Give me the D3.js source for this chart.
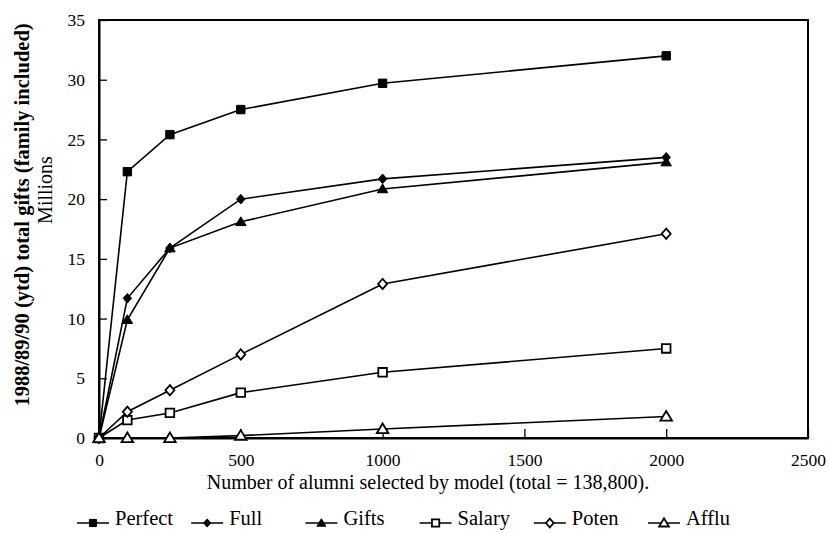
<!DOCTYPE html>
<html>
<head>
<meta charset="utf-8">
<script src="https://cdn.jsdelivr.net/npm/d3@7"></script>
<style>
  body { margin: 0; background: #fff; }
  text { font-family: "Liberation Serif", "Times New Roman", serif; fill: #000; }
</style>
</head>
<body>
<script>
// data (millions)
var alumni = [0, 100, 250, 500, 1000, 2000];
var perfect = [0, 22.3, 25.4, 27.5, 29.7, 32.0];
var full = [0, 11.7, 15.9, 20.0, 21.7, 23.5];
var gifts = [0, 9.9, 15.9, 18.1, 20.85, 23.1];
var salary = [0, 1.5, 2.1, 3.8, 5.5, 7.5];
var poten = [0, 2.2, 4.0, 7.0, 12.9, 17.1];
var afflu = [0, 0, 0, 0.2, 0.75, 1.8];
var seriesNames = ["Perfect", "Full", "Gifts", "Salary", "Poten", "Afflu"];
var xTicks = [0, 500, 1000, 1500, 2000, 2500];
var yTicks = [0, 5, 10, 15, 20, 25, 30, 35];

var width = 829;
var height = 533;
var margin = {top: 20, right: 21, bottom: 95, left: 99};
var serif = '"Liberation Serif", "Times New Roman", serif';

var svg = d3.select("body").append("svg")
    .attr("width", width)
    .attr("height", height);

var x = d3.scaleLinear().domain([0, 2500]).range([margin.left, width - margin.right]);
var y = d3.scaleLinear().domain([0, 35]).range([height - margin.bottom, margin.top]);

// frame round the plot
svg.append("rect")
    .attr("x", x(0))
    .attr("y", y(35))
    .attr("width", x(2500) - x(0))
    .attr("height", y(0) - y(35))
    .attr("fill", "none")
    .attr("stroke", "#000")
    .attr("stroke-width", 2);

// axes, ticks point inward
var xAxis = svg.append("g")
    .attr("transform", "translate(0," + y(0) + ")")
    .call(d3.axisBottom(x).tickValues(xTicks).tickFormat(d3.format("d"))
      .tickSizeInner(-9).tickSizeOuter(0).tickPadding(16));

var yAxis = svg.append("g")
    .attr("transform", "translate(" + x(0) + ",0)")
    .call(d3.axisLeft(y).tickValues(yTicks).tickFormat(d3.format("d"))
      .tickSizeInner(-8).tickSizeOuter(0).tickPadding(14));

[xAxis, yAxis].forEach(function(g) {
  g.attr("font-family", serif).attr("font-size", 17.5);
  g.select(".domain").attr("stroke-width", 2);
  g.selectAll(".tick line").attr("stroke-width", 1.3);
});

// axis titles
svg.append("text")
    .attr("x", 428)
    .attr("y", 489)
    .attr("text-anchor", "middle")
    .style("font-size", "20px")
    .text("Number of alumni selected by model (total = 138,800).");

svg.append("text")
    .attr("transform", "translate(29,215) rotate(-90)")
    .attr("text-anchor", "middle")
    .style("font-size", "20.5px")
    .style("font-weight", "bold")
    .text("1988/89/90 (ytd) total gifts (family included)");

svg.append("text")
    .attr("transform", "translate(52,190) rotate(-90)")
    .attr("text-anchor", "middle")
    .style("font-size", "20px")
    .text("Millions");

// marker shapes
function markerPath(shape, s) {
  if (shape == "square") {
    return "M" + (-s) + "," + (-s) + "H" + s + "V" + s + "H" + (-s) + "Z";
  }
  if (shape == "diamond") {
    return "M0," + (-s * 1.15) + "L" + s + ",0L0," + (s * 1.15) + "L" + (-s) + ",0Z";
  }
  return "M0," + (-s) + "L" + (s * 1.05) + "," + (s * 0.75) + "L" + (-s * 1.05) + "," + (s * 0.75) + "Z";
}

var series = [
  {name: seriesNames[0], values: perfect, shape: "square", size: 4.2, hollow: false},
  {name: seriesNames[1], values: full, shape: "diamond", size: 4.2, hollow: false},
  {name: seriesNames[2], values: gifts, shape: "triangle", size: 5, hollow: false},
  {name: seriesNames[3], values: salary, shape: "square", size: 4.3, hollow: true},
  {name: seriesNames[4], values: poten, shape: "diamond", size: 4.5, hollow: true},
  {name: seriesNames[5], values: afflu, shape: "triangle", size: 5.5, hollow: true}
];

var line = d3.line()
    .x(function(d, i) { return x(alumni[i]); })
    .y(function(d) { return y(d); });

var groups = svg.selectAll(".series")
  .data(series)
  .enter()
  .append("g")
    .attr("class", "series");

groups.append("path")
    .attr("d", function(d) { return line(d.values); })
    .attr("fill", "none")
    .attr("stroke", "#000")
    .attr("stroke-width", 1.6);

groups.selectAll(".mark")
  .data(function(d) {
    return d.values.map(function(v, i) { return {s: d, v: v, i: i}; });
  })
  .enter()
  .append("path")
    .attr("class", "mark")
    .attr("transform", function(d) { return "translate(" + x(alumni[d.i]) + "," + y(d.v) + ")"; })
    .attr("d", function(d) { return markerPath(d.s.shape, d.s.size); })
    .attr("fill", function(d) { return d.s.hollow ? "#fff" : "#000"; })
    .attr("stroke", "#000")
    .attr("stroke-width", function(d) { return d.s.hollow ? 1.8 : 1; });

// legend along the bottom
var legend = svg.append("g")
    .attr("transform", "translate(77,523)");

var items = legend.selectAll("g")
  .data(series)
  .enter()
  .append("g")
    .attr("transform", function(d, i) { return "translate(" + (i * 114.2) + ",0)"; });

items.append("line")
    .attr("x1", 0)
    .attr("x2", 32)
    .attr("stroke", "#000")
    .attr("stroke-width", 1.5);

items.append("path")
    .attr("transform", "translate(16,0)")
    .attr("d", function(d) { return markerPath(d.shape, d.size * 0.85); })
    .attr("fill", function(d) { return d.hollow ? "#fff" : "#000"; })
    .attr("stroke", "#000")
    .attr("stroke-width", function(d) { return d.hollow ? 1.8 : 1; });

items.append("text")
    .attr("x", 38)
    .attr("y", 2)
    .style("font-size", "20.5px")
    .text(function(d) { return d.name; });
</script>
</body>
</html>
